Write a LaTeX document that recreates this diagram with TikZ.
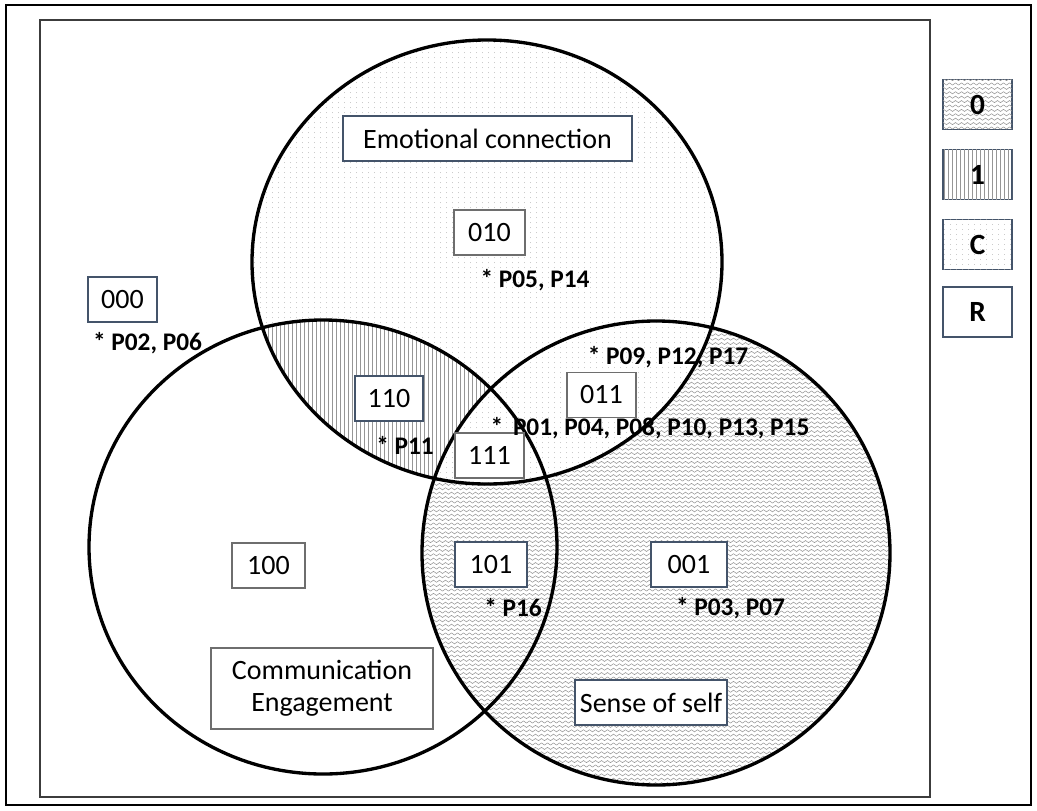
\documentclass[tikz,border=0pt]{standalone}
\usepackage{fontspec}
\setmainfont{Carlito}
\usetikzlibrary{patterns,patterns.meta}

\definecolor{boxline}{RGB}{68,84,106}
\definecolor{boxgray}{RGB}{110,110,110}
\definecolor{patgray}{RGB}{150,150,150}
\definecolor{dotgray}{RGB}{165,165,165}

\tikzdeclarepattern{
  name=wavy,
  type=uncolored,
  bounding box={(-0.2pt,-1.7pt) and (4.7pt,1.7pt)},
  tile size={(4.5pt,3.3pt)},
  code={
    \draw[line width=0.4pt] (0pt,0pt) -- (1.125pt,0.8pt) -- (3.375pt,-0.8pt) -- (4.5pt,0pt);
  }
}
\tikzdeclarepattern{
  name=finedots,
  type=uncolored,
  bounding box={(0pt,0pt) and (4.5pt,4pt)},
  tile size={(4.5pt,4pt)},
  code={
    \fill (2.25pt,2pt) circle (0.32pt);
  }
}

\tikzset{every picture/.style={line width=0.75pt}}
\tikzset{
  setline/.style={line width=2.5pt},
  codebox/.style={draw=boxline, fill=white, line width=0.9pt, inner sep=0pt,
    minimum height=33.75pt, font=\fontsize{21}{25}\selectfont},
  graybox/.style={codebox, draw=boxgray},
  caselabel/.style={inner sep=0.75pt, font=\fontsize{19}{22}\selectfont\bfseries},
  keybox/.style={draw=boxline, line width=0.9pt, inner sep=0pt, minimum width=51.75pt,
    minimum height=37.5pt, font=\fontsize{22}{26}\selectfont\bfseries},
}

\begin{document}
\begin{tikzpicture}[x=0.75pt,y=0.75pt,yscale=-1,xscale=1]
\useasboundingbox (0,0) rectangle (1037,810);

%Shape: Rectangle (outer frame)
\draw [line width=1.8pt] (6,5) rectangle (1031,805) ;
%Shape: Rectangle (inner frame)
\draw [color={rgb, 255:red, 60; green, 60; blue, 60 }, line width=0.9pt] (40,20) rectangle (930,797) ;

%Shape: Ellipse (sense of self, fill)
\fill [pattern=wavy, pattern color=patgray] (656,553) ellipse [x radius=234, y radius=232] ;
%Shape: Ellipse (emotional connection, fill)
\fill [white] (487,262) ellipse [x radius=235, y radius=222] ;
\fill [pattern=finedots, pattern color=dotgray] (487,262) ellipse [x radius=235, y radius=222] ;

%Region 110
\begin{scope}
\clip (487,262) ellipse [x radius=235, y radius=222] ;
\clip (323,547) ellipse [x radius=234, y radius=227] ;
\fill [white, even odd rule] (0,0) rectangle (1037,810) (656,553) ellipse [x radius=234, y radius=232] ;
\fill [pattern=vertical lines, pattern color=patgray, even odd rule] (0,0) rectangle (1037,810) (656,553) ellipse [x radius=234, y radius=232] ;
\end{scope}

%Shape: Ellipse (outlines)
\draw [setline] (487,262) ellipse [x radius=235, y radius=222] ;
\draw [setline] (323,547) ellipse [x radius=234, y radius=227] ;
\draw [setline] (656,553) ellipse [x radius=234, y radius=232] ;

% Text Node
\draw (487.5,138.5) node [codebox, minimum width=216.75pt] (emotion) {Emotional connection};
% Text Node
\draw (489.5,232.5) node [graybox, minimum width=53.25pt] (b010) {010};
% Text Node
\draw (535,280) node [caselabel] (p010) {* P05, P14};
% Text Node
\draw (122.5,299.5) node [codebox, minimum width=51.75pt] (b000) {000};
% Text Node
\draw (147.5,343) node [caselabel] (p000) {* P02, P06};
% Text Node
\draw (389,398.5) node [codebox, minimum width=51pt] (b110) {110};
% Text Node
\draw (405,445) node [caselabel] (p110) {* P11};
% Text Node
\draw (489.5,455.5) node [graybox, minimum width=51.75pt] (b111) {111};
% Text Node
\draw (601.5,395) node [graybox, minimum width=51.75pt] (b011) {011};
% Text Node
\draw (668,357) node [caselabel] (p011) {* P09, P12, P17};
% Text Node
\draw (650,428) node [caselabel] (p111) {*\hspace{3pt} P01, P04, P08, P10, P13, P15};
% Text Node
\draw (491,564.5) node [codebox, minimum width=54pt] (b101) {101};
% Text Node
\draw (513,608) node [caselabel] (p101) {* P16};
% Text Node
\draw (689,564.5) node [codebox, minimum width=57pt] (b001) {001};
% Text Node
\draw (730.5,608) node [caselabel] (p001) {* P03, P07};
% Text Node
\draw (268.5,565.5) node [graybox, minimum width=54.75pt] (b100) {100};
% Text Node
\draw (322,688.5) node [graybox, minimum width=166.5pt, minimum height=60.75pt, align=center] (commu) {Communication\\[-1pt]Engagement};
% Text Node
\draw (651,702.5) node [codebox, minimum width=114pt] (self) {Sense of self};

% Key
\draw (977.5,104.5) node [keybox, fill=white, postaction={pattern=wavy, pattern color=patgray}] (key0) {};
\draw (key0) node [font=\fontsize{22}{26}\selectfont\bfseries] (txt0) {0};
\draw (977.5,174.5) node [keybox, fill=white, postaction={pattern=vertical lines, pattern color=patgray}] (key1) {};
\draw (key1) node [font=\fontsize{22}{26}\selectfont\bfseries] (txt1) {1};
\draw (977.5,244.5) node [keybox, fill=white, postaction={pattern=finedots, pattern color=dotgray}] (keyc) {};
\draw (keyc) node [font=\fontsize{22}{26}\selectfont\bfseries] (txtc) {C};
\draw (977.5,312) node [keybox, fill=white] (keyr) {R};

\end{tikzpicture}
\end{document}
